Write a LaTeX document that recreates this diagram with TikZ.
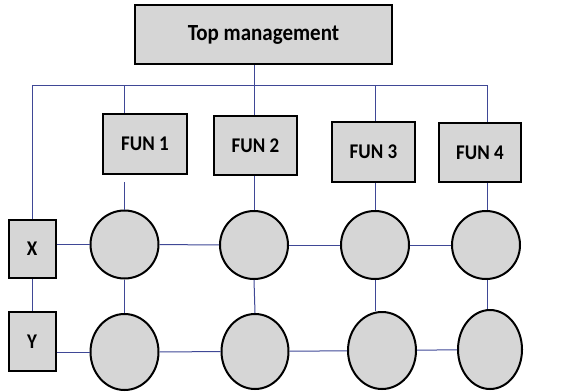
\documentclass[tikz,border=0pt]{standalone}
\usepackage{fontspec}
\setmainfont{Carlito}
\usetikzlibrary{shapes.geometric}
\definecolor{linkblue}{RGB}{63,72,150}
\definecolor{boxgrey}{RGB}{214,214,214}
\newcommand{\tallbold}[2]{\scalebox{1}[1.1]{\fontsize{#1}{#1}\selectfont\bfseries #2}}
\tikzset{
  box/.style={draw=black, line width=2pt, fill=boxgrey, inner sep=0pt},
  unit/.style={draw=black, line width=2pt, fill=boxgrey, ellipse, inner sep=0pt},
  conn/.style={draw=linkblue, line width=1pt},
}
\begin{document}
\begin{tikzpicture}[x=1pt,y=-1pt]
\useasboundingbox (0,0) rectangle (585,391);

% corners of the top-level bus
\coordinate (busR) at (487,85);
\coordinate (busL) at (33,85);

% boxes
\node[box, minimum width=257pt, minimum height=59pt] (top) at (263.5,34.5) {\tallbold{21}{Top management}};
\node[box, minimum width=84pt, minimum height=60pt] (fun1) at (145,144) {\tallbold{19}{FUN 1}};
\node[box, minimum width=83pt, minimum height=59pt] (fun2) at (255.5,145.5) {\tallbold{19}{FUN 2}};
\node[box, minimum width=83pt, minimum height=60pt] (fun3) at (373.5,152) {\tallbold{19}{FUN 3}};
\node[box, minimum width=82pt, minimum height=59pt] (fun4) at (480,152.5) {\tallbold{19}{FUN 4}};
\node[box, minimum width=47pt, minimum height=58pt] (X) at (32,249) {\tallbold{19}{X}};
\node[box, minimum width=47pt, minimum height=59pt] (Y) at (32,341.5) {\tallbold{19}{Y}};

% matrix cells
\node[unit, minimum width=68pt, minimum height=68pt] (c1) at (124.5,244.5) {};
\node[unit, minimum width=68pt, minimum height=68pt] (c2) at (254,245) {};
\node[unit, minimum width=68pt, minimum height=68pt] (c3) at (375,245) {};
\node[unit, minimum width=68pt, minimum height=68pt] (c4) at (486,245) {};
\node[unit, minimum width=68pt, minimum height=76pt] (c5) at (124.5,352) {};
\node[unit, minimum width=67pt, minimum height=75pt] (c6) at (255,351.5) {};
\node[unit, minimum width=68pt, minimum height=77pt] (c7) at (382,350.5) {};
\node[unit, minimum width=64pt, minimum height=79pt] (c8) at (490,349.5) {};

% top-level bus
\draw[conn] (c2 |- top.south) -- (c2 |- fun2.north);
\draw[conn] (X.north) |- (busR) -- (busR |- fun4.north);
\draw[conn] (c1 |- busL) -- (c1 |- fun1.north);
\draw[conn] (c3 |- busL) -- (c3 |- fun3.north);

% functions down to their cells
\draw[conn] ([yshift=-7pt]c1 |- fun1.south) -- (c1.north);
\draw[conn] (c2 |- fun2.south) -- (c2.north);
\draw[conn] (c3 |- fun3.south) -- (c3.north);
\draw[conn] (busR |- fun4.south) -- (busR |- c4.north);

% rows
\draw[conn] (X.east |- c1) -- (c1.west);
\draw[conn] (c1) -- (c2);
\draw[conn] (c2) -- (c3);
\draw[conn] (c3) -- (c4);
\draw[conn] (Y.east |- c5) -- (c5.west);
\draw[conn] (c5) -- (c6);
\draw[conn] (c6) -- (c7);
\draw[conn] (c7) -- (c8);

% columns
\draw[conn] (X.south) -- (Y.north);
\draw[conn] (c1.south) -- (c5.north);
\draw[conn] (c2.south) -- (c6.north);
\draw[conn] (c3.south) -- (c3.south |- c7.north);
\draw[conn] (busR |- c4.south) -- (busR |- c8.north);
\end{tikzpicture}
\end{document}
